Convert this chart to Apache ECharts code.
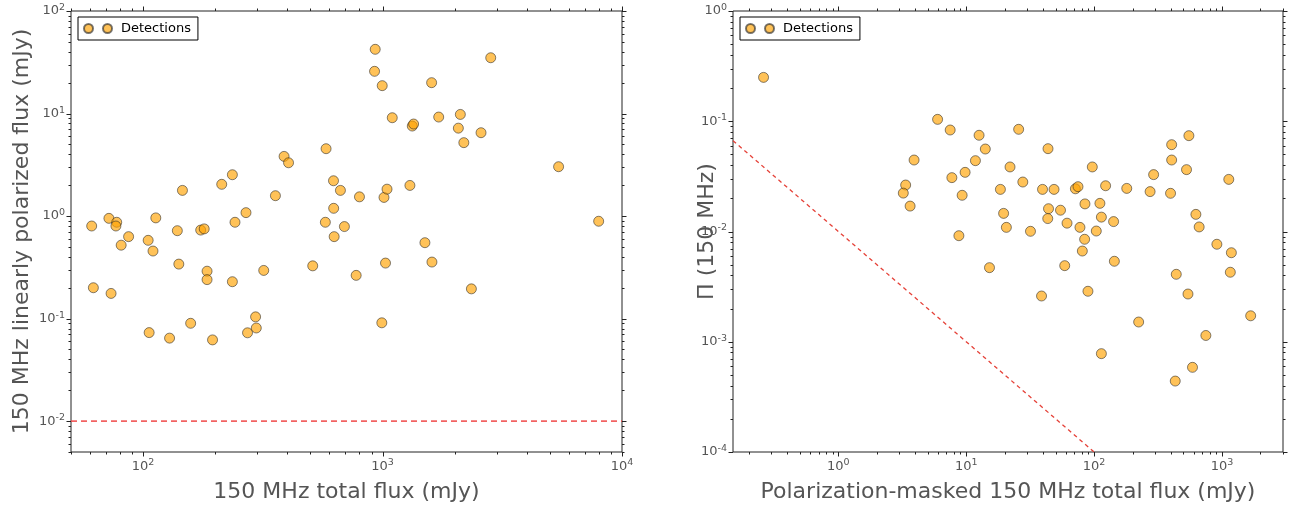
<!DOCTYPE html>
<html>
<head>
<meta charset="utf-8">
<script src="https://cdn.jsdelivr.net/npm/echarts@6/dist/echarts.min.js"></script>
<style>
html,body{margin:0;padding:0;background:#fff;}
#chart{width:1293px;height:509px;}
</style>
</head>
<body>
<div id="chart"></div>
<script>
// ---------- data ----------
const leftX = [61,62,72,77.6,77,87,81,73.5,113,146,105,110,141,139,174,180,185,185,236,213,236,242,269,319,357,388,405,581,624,667,625,577,693,628,511,776,801,1014,1044,1029,993,106,129,158,195,273,295,297,932,2830,926,997,1603,1098,1331,1348,1716,2113,2073,2578,2185,5435,1301,1503,1608,2350,7990];
const leftY = [0.80,0.20,0.95,0.87,0.80,0.63,0.52,0.176,0.96,1.78,0.58,0.456,0.34,0.72,0.73,0.75,0.29,0.24,0.229,2.04,2.53,0.87,1.08,0.295,1.58,3.82,3.31,4.54,2.21,1.78,1.19,0.87,0.79,0.63,0.327,0.264,1.54,1.52,1.83,0.348,0.091,0.073,0.0645,0.090,0.062,0.0727,0.104,0.081,42.3,35,25.8,18.7,20,9.1,7.55,7.9,9.24,9.8,7.2,6.5,5.2,3.03,1.99,0.55,0.356,0.195,0.89];
const rightX = [0.26,5.97,7.49,12.6,25.7,14.1,11.8,3.91,9.8,7.72,22.0,27.7,3.36,3.22,18.5,3.64,9.29,19.6,20.6,31.8,8.76,15.2,
  43.6,96.8,39.5,48.6,71.4,74.8,123,180,274,396,292,404,404,551,528,1130,
  44,43.4,54.6,61.4,84.8,111,114,142,77.5,104,84.3,80.9,58.9,144,38.8,89.5,223,114,625,663,912,1184,1162,439,542,1676,748,588,431];
const rightY = [0.25,0.104,0.0833,0.0746,0.0845,0.056,0.0439,0.0445,0.0344,0.0308,0.0385,0.0281,0.0264,0.0223,0.0241,0.0170,0.0213,0.0146,0.0109,0.01004,0.00916,0.0047,
  0.0564,0.0385,0.0241,0.0241,0.0244,0.0255,0.026,0.0246,0.023,0.0222,0.0328,0.0445,0.0613,0.074,0.0364,0.0297,
  0.0161,0.0131,0.0156,0.0119,0.0178,0.018,0.0135,0.0123,0.0109,0.0101,0.0085,0.00665,0.0049,0.00537,0.0026,0.00287,0.00151,0.00078,0.0143,0.011,0.00766,0.00642,0.00427,0.00409,0.00271,0.00172,0.00114,0.000586,0.00044];
const leftLimit = [[50, 0.01], [10000, 0.01]];
const rightLimit = [[0.15, 0.0667], [100, 0.0001]];
const leftXRange = [50, 10000], leftYRange = [0.005, 100];
const rightXRange = [0.15, 3000], rightYRange = [0.0001, 1];
const legendName = 'Detections';
const leftXName = '150 MHz total flux (mJy)';
const leftYName = '150 MHz linearly polarized flux (mJy)';
const rightXName = 'Polarization-masked 150 MHz total flux (mJy)';
const rightYName = 'Π (150 MHz)';

// ---------- tick helpers ----------
function logTicks(range) {
  const out = [];
  const e0 = Math.floor(Math.log10(range[0])), e1 = Math.ceil(Math.log10(range[1]));
  for (let e = e0; e <= e1; e++) {
    for (let m = 1; m <= 9; m++) {
      const v = m * Math.pow(10, e);
      if (v >= range[0] * 0.9999 && v <= range[1] * 1.0001) out.push([v, m === 1]);
    }
  }
  return out;
}
function tickData(xr, yr) {
  const d = [];
  logTicks(xr).forEach(([v, major]) => d.push([v, yr[0], major ? 4.5 : 2.5, 0]));
  logTicks(yr).forEach(([v, major]) => d.push([xr[0], v, major ? 4.5 : 2.5, 1]));
  return d;
}
function renderTicks(params, api) {
  const cs = params.coordSys;
  const len = api.value(2), dir = api.value(3);
  const p = api.coord([api.value(0), api.value(1)]);
  const st = { stroke: '#222', lineWidth: 1 };
  if (dir === 0) {
    const x = Math.round(p[0]) + 0.5;
    const yb = cs.y + cs.height, yt = cs.y;
    return { type: 'group', children: [
      { type: 'line', shape: { x1: x, y1: yb, x2: x, y2: yb + len }, style: st },
      { type: 'line', shape: { x1: x, y1: yt, x2: x, y2: yt - len }, style: st }
    ]};
  } else {
    const y = Math.round(p[1]) + 0.5;
    const xl = cs.x, xr = cs.x + cs.width;
    return { type: 'group', children: [
      { type: 'line', shape: { x1: xl, y1: y, x2: xl - len, y2: y }, style: st },
      { type: 'line', shape: { x1: xr, y1: y, x2: xr + len, y2: y }, style: st }
    ]};
  }
}
function fmt(v) {
  const l = Math.log10(v), e = Math.round(l);
  if (Math.abs(l - e) > 1e-6) return '';
  return '{b|10}{s|' + e + '}';
}
const labelStyle = {
  color: '#555', fontSize: 13, margin: 6, formatter: fmt,
  rich: {
    b: { fontSize: 13, color: '#555', fontFamily: 'DejaVu Sans' },
    s: { fontSize: 9.5, color: '#555', fontFamily: 'DejaVu Sans', padding: [0, 0, 7, 0] }
  }
};
const nameStyle = { fontSize: 22, color: '#555', fontFamily: 'DejaVu Sans' };
function mkXAxis(idx, range, name) {
  return { type: 'log', logBase: 10, gridIndex: idx, min: range[0], max: range[1],
    name: name, nameLocation: 'middle', nameGap: 29, nameTextStyle: nameStyle, nameMoveOverlap: false,
    axisLine: { show: false }, axisTick: { show: false }, splitLine: { show: false },
    axisLabel: labelStyle };
}
function mkYAxis(idx, range, name, gap) {
  return { type: 'log', logBase: 10, gridIndex: idx, min: range[0], max: range[1],
    name: name, nameLocation: 'middle', nameGap: gap, nameTextStyle: nameStyle, nameMoveOverlap: false,
    axisLine: { show: false }, axisTick: { show: false }, splitLine: { show: false },
    axisLabel: labelStyle };
}
const legendIcon = 'path://M0,4.5a4.5,4.5 0 1,0 9,0a4.5,4.5 0 1,0 -9,0zM19,4.5a4.5,4.5 0 1,0 9,0a4.5,4.5 0 1,0 -9,0z';
function mkLegend(left) {
  return { data: [legendName], left: left, top: 17, padding: [5, 7, 5, 5],
    itemWidth: 28, itemHeight: 9, icon: legendIcon, selectedMode: false,
    borderColor: '#000', borderWidth: 1, borderRadius: 0, backgroundColor: '#fff',
    textStyle: { fontSize: 13, color: '#000', fontFamily: 'DejaVu Sans', padding: [0, 0, 0, 4] } };
}
const markerStyle = { color: 'rgba(255,162,0,0.82)', borderColor: 'rgba(30,30,30,0.75)', borderWidth: 0.9 };

const chart = echarts.init(document.getElementById('chart'), null, { renderer: 'canvas' });
chart.setOption({
  animation: false,
  backgroundColor: '#fff',
  textStyle: { fontFamily: 'DejaVu Sans' },
  grid: [
    { left: 71, top: 11, width: 551, height: 441, show: true, borderColor: '#222', borderWidth: 1, backgroundColor: '#fff' },
    { left: 733, top: 11, width: 550, height: 441, show: true, borderColor: '#222', borderWidth: 1, backgroundColor: '#fff' }
  ],
  xAxis: [mkXAxis(0, leftXRange, leftXName), mkXAxis(1, rightXRange, rightXName)],
  yAxis: [mkYAxis(0, leftYRange, leftYName, 38), mkYAxis(1, rightYRange, rightYName, 15)],
  legend: [mkLegend(78), mkLegend(740)],
  series: [
    { type: 'custom', name: 'ticks0', xAxisIndex: 0, yAxisIndex: 0, data: tickData(leftXRange, leftYRange),
      renderItem: renderTicks, clip: false, silent: true, encode: { x: 0, y: 1 } },
    { type: 'custom', name: 'ticks1', xAxisIndex: 1, yAxisIndex: 1, data: tickData(rightXRange, rightYRange),
      renderItem: renderTicks, clip: false, silent: true, encode: { x: 0, y: 1 } },
    { type: 'line', name: 'limit0', xAxisIndex: 0, yAxisIndex: 0, data: leftLimit, symbol: 'none', silent: true,
      lineStyle: { type: [6, 4], color: 'rgba(240,70,70,0.85)', width: 1.6 }, z: 2 },
    { type: 'line', name: 'limit1', xAxisIndex: 1, yAxisIndex: 1, data: rightLimit, symbol: 'none', silent: true,
      lineStyle: { type: [4, 3.5], color: 'rgba(228,55,45,0.95)', width: 1.3 }, z: 2 },
    { type: 'scatter', name: legendName, xAxisIndex: 0, yAxisIndex: 0, symbolSize: 10,
      data: leftX.map((x, i) => [x, leftY[i]]), itemStyle: markerStyle, z: 3 },
    { type: 'scatter', name: legendName, xAxisIndex: 1, yAxisIndex: 1, symbolSize: 10,
      data: rightX.map((x, i) => [x, rightY[i]]), itemStyle: markerStyle, z: 3 }
  ]
});
</script>
</body>
</html>
